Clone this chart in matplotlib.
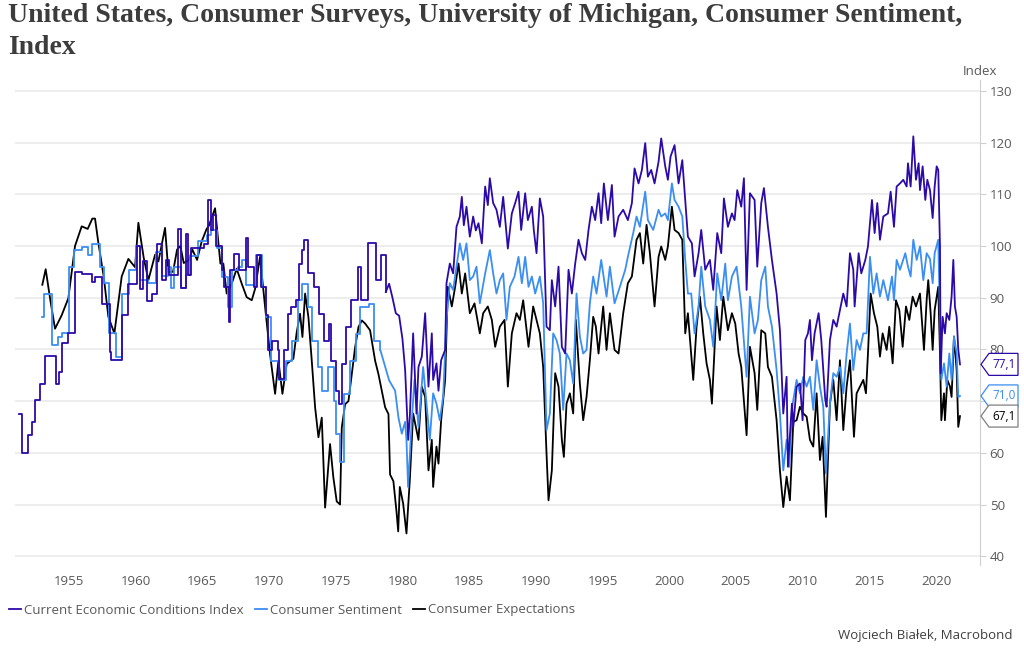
import numpy as np
import matplotlib
matplotlib.use("Agg")
import matplotlib.pyplot as plt
import matplotlib.transforms as mtransforms
from matplotlib.patches import Polygon

# ---- data ----
# early survey periods are drawn as steps (start of period, value)
cur_step_t = [1951.25, 1951.45, 1951.95, 1952.2, 1952.45, 1952.85, 1953.2, 1954.0, 1954.25, 1954.45,
              1954.95, 1955.45, 1955.95, 1956.7, 1956.95, 1957.5, 1958.05, 1958.15, 1958.95, 1959.45,
              1960.1, 1960.35, 1960.55, 1960.85, 1961.2, 1961.6, 1962.0, 1962.25, 1962.5, 1963.15,
              1963.4, 1963.75, 1963.9, 1964.15, 1965.1, 1965.4, 1965.68, 1965.8, 1966.0, 1966.5,
              1966.65, 1966.98, 1967.1, 1967.4, 1967.72, 1968.25, 1968.4, 1968.9, 1969.1, 1969.4,
              1969.75, 1969.9, 1970.2, 1970.65, 1970.78, 1971.15, 1971.4, 1971.65, 1972.0, 1972.25,
              1972.5, 1972.65, 1972.9, 1973.35, 1973.75, 1974.15, 1974.5, 1974.65, 1975.0, 1975.25,
              1975.5, 1975.75, 1976.15, 1976.65, 1976.9, 1977.4, 1978.0, 1978.4, 1978.75]
cur_step_v = [67.6, 60.0, 63.4, 66.0, 70.3, 73.3, 78.7, 73.3, 75.6, 81.3,
              83.2, 95.0, 94.5, 93.0, 94.0, 88.8, 79.5, 77.9, 86.6, 92.7,
              100.0, 91.7, 97.0, 89.4, 90.8, 100.3, 93.4, 97.3, 94.4, 103.3,
              91.8, 102.4, 94.4, 99.6, 100.3, 108.9, 103.0, 106.0, 99.9, 95.3,
              92.0, 85.3, 95.3, 98.5, 95.3, 101.5, 96.0, 92.0, 98.2, 92.0,
              86.6, 79.8, 81.7, 79.8, 74.3, 79.8, 86.9, 88.2, 89.5, 96.6,
              99.2, 101.1, 94.7, 92.0, 86.9, 81.7, 85.0, 77.8, 72.0, 69.4,
              77.2, 84.3, 89.5, 96.0, 89.5, 100.5, 93.4, 98.2, 91.1]

sent_step_t = [1953.0, 1953.15, 1953.7, 1954.2, 1954.5, 1955.0, 1955.4, 1955.95, 1956.4, 1956.75,
               1957.35, 1957.6, 1958.0, 1958.5, 1958.95, 1959.5, 1960.05, 1960.35, 1960.95, 1961.5,
               1962.0, 1962.45, 1962.65, 1962.9, 1963.4, 1963.8, 1964.1, 1964.65, 1965.35, 1965.65,
               1966.1, 1966.5, 1966.9, 1967.2, 1967.65, 1968.0, 1968.25, 1969.0, 1969.45, 1969.75,
               1970.15, 1970.75, 1971.25, 1971.75, 1972.15, 1972.5, 1972.9, 1973.25, 1973.65, 1974.0,
               1974.45, 1974.9, 1975.0, 1975.3, 1975.65, 1976.1, 1976.5, 1976.85, 1977.5, 1977.9,
               1978.35]
sent_step_v = [86.2, 90.7, 80.8, 82.4, 83.1, 95.9, 99.2, 99.8, 98.3, 100.3,
               96.0, 92.8, 83.1, 78.5, 90.8, 95.4, 100.0, 93.4, 92.8, 98.8,
               94.1, 96.0, 91.8, 95.9, 91.8, 94.4, 98.0, 100.9, 102.2, 103.0,
               99.7, 94.0, 88.2, 95.3, 96.0, 97.2, 92.4, 98.2, 92.0, 86.2,
               77.8, 74.0, 77.8, 81.7, 89.5, 92.7, 88.2, 81.7, 76.5, 72.0,
               76.5, 70.0, 63.6, 58.2, 71.4, 77.8, 83.0, 88.2, 88.8, 81.7,
               79.8]

# monthly era (sampled turning points)
cur_t = [1979.0, 1979.25, 1979.5, 1979.75, 1980.0, 1980.2, 1980.43, 1980.55, 1980.8, 1981.05,
         1981.2, 1981.45, 1981.7, 1981.95, 1982.2, 1982.3, 1982.55, 1982.7, 1982.9, 1983.2,
         1983.3, 1983.55, 1983.8, 1984.05, 1984.3, 1984.45, 1984.6, 1984.8, 1985.05, 1985.3,
         1985.5, 1985.7, 1985.95, 1986.2, 1986.4, 1986.55, 1986.8, 1987.05, 1987.3, 1987.55,
         1987.9, 1988.2, 1988.45, 1988.7, 1988.9, 1989.2, 1989.4, 1989.7, 1989.85, 1990.05,
         1990.3, 1990.55, 1990.8, 1991.05, 1991.2, 1991.45, 1991.7, 1991.95, 1992.2, 1992.45,
         1992.7, 1992.95, 1993.2, 1993.45, 1993.7, 1993.95, 1994.2, 1994.45, 1994.7, 1994.9,
         1995.1, 1995.4, 1995.7, 1995.9, 1996.2, 1996.55, 1996.9, 1997.2, 1997.4, 1997.7,
         1997.95, 1998.2, 1998.4, 1998.65, 1998.9, 1999.2, 1999.4, 1999.7, 1999.9, 2000.1,
         2000.4, 2000.7, 2000.98, 2001.2, 2001.4, 2001.7, 2001.9, 2002.2, 2002.4, 2002.7,
         2003.05, 2003.3, 2003.6, 2003.9, 2004.1, 2004.4, 2004.7, 2004.9, 2005.1, 2005.4,
         2005.6, 2005.8, 2006.05, 2006.4, 2006.6, 2006.9, 2007.1, 2007.4, 2007.7, 2008.05,
         2008.3, 2008.55, 2008.8, 2008.9, 2009.2, 2009.3, 2009.55, 2009.8, 2010.0, 2010.2,
         2010.4, 2010.55, 2010.7, 2010.9, 2011.2, 2011.4, 2011.7, 2011.8, 2012.05, 2012.3,
         2012.55, 2012.8, 2013.05, 2013.3, 2013.55, 2013.8, 2013.9, 2014.2, 2014.4, 2014.7,
         2014.9, 2015.2, 2015.4, 2015.6, 2015.8, 2016.05, 2016.4, 2016.6, 2016.85, 2017.05,
         2017.3, 2017.55, 2017.8, 2017.9, 2018.1, 2018.3, 2018.5, 2018.7, 2018.8, 2019.0,
         2019.2, 2019.35, 2019.55, 2019.75, 2019.9, 2020.05, 2020.17, 2020.3, 2020.35, 2020.5,
         2020.67, 2020.8, 2021.0, 2021.17, 2021.3, 2021.42, 2021.55, 2021.67, 2021.8]
cur_v = [92.7, 90.0, 87.0, 86.5, 82.0, 76.0, 62.5, 67.0, 83.1, 67.6,
         76.6, 78.6, 87.0, 72.8, 83.1, 74.1, 77.3, 72.0, 77.9, 79.9,
         92.8, 96.6, 94.7, 103.7, 105.7, 109.5, 104.0, 107.6, 101.8, 105.7,
         103.0, 104.4, 100.5, 111.5, 107.9, 113.1, 108.3, 107.0, 103.7, 109.5,
         99.5, 106.3, 108.3, 110.5, 103.1, 110.2, 105.0, 107.6, 103.0, 98.6,
         109.2, 105.7, 84.4, 83.7, 93.4, 88.3, 96.0, 80.5, 79.2, 95.4,
         90.8, 96.6, 101.2, 98.6, 97.3, 103.1, 107.6, 105.0, 110.2, 104.4,
         112.1, 105.0, 111.8, 101.8, 105.7, 107.0, 105.0, 108.3, 115.0, 112.1,
         114.7, 119.9, 113.4, 114.7, 112.1, 116.3, 120.8, 115.4, 112.8, 117.3,
         119.5, 112.1, 116.6, 108.9, 101.8, 100.5, 94.1, 98.6, 103.1, 95.4,
         97.3, 91.5, 102.5, 98.6, 109.2, 103.7, 106.3, 105.0, 110.8, 107.6,
         113.1, 91.5, 110.2, 108.9, 96.0, 108.3, 111.2, 103.7, 97.3, 90.8,
         83.7, 67.6, 74.7, 57.3, 69.5, 65.0, 72.8, 73.4, 66.3, 81.8,
         83.1, 85.7, 77.9, 83.1, 87.0, 81.8, 70.2, 68.9, 81.8, 85.7,
         84.4, 87.6, 90.8, 88.3, 98.6, 95.4, 88.3, 98.6, 94.7, 97.3,
         99.9, 108.9, 102.5, 108.3, 101.2, 105.7, 106.3, 110.5, 103.7, 111.5,
         112.1, 112.8, 111.5, 116.0, 111.5, 121.2, 112.8, 116.0, 110.8, 115.4,
         108.9, 112.8, 110.8, 105.4, 111.5, 115.4, 114.7, 99.9, 75.4, 86.3,
         83.1, 87.0, 85.7, 90.2, 97.3, 88.3, 86.3, 80.0, 77.1]

sent_t = [1979.0, 1979.45, 1979.7, 1979.95, 1980.2, 1980.3, 1980.42, 1980.7, 1980.9, 1981.2,
          1981.55, 1981.8, 1982.05, 1982.3, 1982.55, 1982.8, 1983.05, 1983.3, 1983.55, 1983.8,
          1984.05, 1984.3, 1984.55, 1984.8, 1985.05, 1985.3, 1985.55, 1985.8, 1986.2, 1986.55,
          1986.8, 1987.05, 1987.3, 1987.55, 1987.8, 1988.05, 1988.4, 1988.7, 1988.95, 1989.2,
          1989.45, 1989.7, 1989.95, 1990.3, 1990.55, 1990.8, 1991.05, 1991.3, 1991.55, 1991.8,
          1992.05, 1992.3, 1992.55, 1992.8, 1993.05, 1993.3, 1993.55, 1993.8, 1994.05, 1994.3,
          1994.55, 1994.9, 1995.3, 1995.55, 1995.9, 1996.3, 1996.7, 1996.9, 1997.3, 1997.55,
          1997.8, 1998.2, 1998.4, 1998.8, 1999.2, 1999.4, 1999.7, 1999.9, 2000.2, 2000.4,
          2000.7, 2000.98, 2001.2, 2001.4, 2001.65, 2001.9, 2002.2, 2002.4, 2002.7, 2003.05,
          2003.3, 2003.6, 2003.9, 2004.2, 2004.4, 2004.7, 2005.05, 2005.4, 2005.8, 2006.05,
          2006.4, 2006.65, 2006.9, 2007.2, 2007.4, 2007.7, 2008.05, 2008.3, 2008.55, 2008.8,
          2009.0, 2009.2, 2009.3, 2009.55, 2009.8, 2010.05, 2010.3, 2010.55, 2010.8, 2011.05,
          2011.3, 2011.55, 2011.75, 2012.05, 2012.3, 2012.55, 2012.8, 2013.05, 2013.3, 2013.55,
          2013.8, 2014.05, 2014.3, 2014.55, 2014.8, 2015.05, 2015.3, 2015.55, 2015.8, 2016.05,
          2016.4, 2016.7, 2016.85, 2017.05, 2017.3, 2017.7, 2017.9, 2018.1, 2018.3, 2018.55,
          2018.8, 2019.05, 2019.3, 2019.55, 2019.75, 2019.9, 2020.17, 2020.3, 2020.4, 2020.6,
          2020.8, 2021.0, 2021.17, 2021.35, 2021.55, 2021.67, 2021.8]
sent_v = [74.0, 72.0, 66.8, 63.7, 66.0, 62.5, 53.4, 66.3, 74.1, 65.0,
          76.6, 69.5, 62.5, 71.5, 69.5, 66.3, 70.8, 85.7, 92.8, 91.5,
          96.0, 100.5, 97.3, 100.5, 93.4, 94.1, 96.0, 88.9, 94.7, 99.2,
          94.7, 90.8, 93.4, 94.7, 85.7, 92.1, 94.1, 97.9, 92.8, 97.9,
          92.1, 94.1, 90.8, 94.1, 88.9, 64.4, 67.6, 83.1, 81.8, 79.2,
          68.3, 79.2, 77.9, 73.4, 90.8, 82.5, 79.2, 79.9, 88.9, 94.1,
          90.8, 97.3, 90.2, 96.0, 88.9, 92.1, 95.4, 97.9, 102.5, 105.7,
          103.7, 110.5, 105.0, 103.1, 107.0, 105.7, 106.3, 105.0, 112.1, 108.9,
          107.6, 105.7, 97.3, 90.8, 90.8, 83.1, 88.3, 96.0, 88.3, 85.7,
          80.5, 94.7, 89.5, 96.6, 89.5, 94.1, 96.0, 88.3, 74.7, 90.2,
          83.1, 85.7, 93.4, 96.0, 88.3, 84.4, 76.0, 67.6, 56.6, 62.5,
          57.3, 68.3, 70.2, 74.1, 71.5, 74.7, 72.8, 74.7, 68.3, 77.9,
          72.8, 68.9, 56.0, 69.5, 75.4, 74.7, 76.6, 71.5, 79.2, 85.0,
          76.0, 81.8, 79.9, 83.1, 83.1, 97.9, 90.8, 94.7, 90.2, 93.4,
          89.5, 94.1, 89.5, 97.3, 95.4, 98.6, 96.0, 94.1, 101.2, 97.3,
          99.9, 93.4, 98.6, 97.5, 92.8, 98.6, 101.2, 85.7, 74.1, 77.3,
          72.8, 79.2, 74.1, 82.5, 79.2, 70.8, 71.0]

exp_t = [1953.0, 1953.25, 1953.6, 1953.95, 1954.45, 1954.95, 1955.45, 1955.95, 1956.4, 1956.75,
         1956.95, 1957.2, 1957.6, 1957.95, 1958.4, 1958.95, 1959.45, 1959.95, 1960.2, 1960.6,
         1960.95, 1961.45, 1961.7, 1962.2, 1962.45, 1962.8, 1963.1, 1963.35, 1963.6, 1964.0,
         1964.25, 1964.6, 1964.95, 1965.3, 1965.5, 1965.95, 1966.35, 1966.57, 1966.82, 1967.2,
         1967.57, 1967.95, 1968.32, 1968.7, 1968.95, 1969.32, 1969.7, 1970.07, 1970.45, 1970.7,
         1971.0, 1971.32, 1971.82, 1972.07, 1972.32, 1972.5, 1972.7, 1972.95, 1973.2, 1973.45,
         1973.7, 1973.95, 1974.2, 1974.57, 1974.82, 1975.07, 1975.32, 1975.45, 1975.7, 1975.95,
         1976.2, 1976.45, 1976.7, 1976.95, 1977.2, 1977.57, 1977.95, 1978.2, 1978.45, 1978.7,
         1978.95, 1979.07, 1979.32, 1979.55, 1979.68, 1979.8, 1980.05, 1980.3, 1980.55, 1980.8,
         1981.2, 1981.45, 1981.7, 1981.95, 1982.2, 1982.3, 1982.55, 1982.7, 1982.9, 1983.2,
         1983.4, 1983.7, 1983.95, 1984.2, 1984.45, 1984.7, 1985.05, 1985.4, 1985.8, 1986.05,
         1986.4, 1986.7, 1986.95, 1987.3, 1987.65, 1987.9, 1988.2, 1988.55, 1988.8, 1989.05,
         1989.45, 1989.8, 1990.05, 1990.3, 1990.55, 1990.8, 1990.95, 1991.2, 1991.45, 1991.7,
         1991.95, 1992.1, 1992.3, 1992.55, 1992.8, 1993.0, 1993.3, 1993.55, 1993.8, 1994.05,
         1994.3, 1994.5, 1994.7, 1995.05, 1995.3, 1995.55, 1995.9, 1996.2, 1996.55, 1996.9,
         1997.2, 1997.55, 1997.8, 1998.05, 1998.3, 1998.55, 1998.9, 1999.2, 1999.4, 1999.7,
         1999.9, 2000.2, 2000.4, 2000.7, 2000.98, 2001.2, 2001.4, 2001.8, 2002.05, 2002.3,
         2002.55, 2002.8, 2003.05, 2003.2, 2003.55, 2003.8, 2004.05, 2004.4, 2004.7, 2004.95,
         2005.2, 2005.4, 2005.8, 2006.05, 2006.4, 2006.6, 2006.9, 2007.2, 2007.4, 2007.7,
         2008.05, 2008.3, 2008.55, 2008.8, 2009.05, 2009.3, 2009.55, 2009.8, 2010.05, 2010.3,
         2010.55, 2010.8, 2011.05, 2011.3, 2011.5, 2011.75, 2012.05, 2012.3, 2012.55, 2012.8,
         2013.05, 2013.3, 2013.55, 2013.85, 2014.05, 2014.3, 2014.55, 2014.75, 2014.9, 2015.1,
         2015.35, 2015.6, 2015.8, 2016.0, 2016.3, 2016.5, 2016.75, 2017.0, 2017.25, 2017.5,
         2017.75, 2018.0, 2018.25, 2018.5, 2018.8, 2019.1, 2019.3, 2019.42, 2019.6, 2019.75,
         2019.9, 2020.17, 2020.3, 2020.4, 2020.6, 2020.67, 2020.85, 2021.05, 2021.17, 2021.35,
         2021.55, 2021.67, 2021.8]
exp_v = [92.5, 95.5, 89.5, 84.0, 86.6, 89.9, 100.0, 103.8, 103.3, 105.3,
         105.3, 100.6, 94.1, 86.3, 83.1, 94.1, 97.5, 95.9, 104.5, 97.7,
         93.4, 98.3, 97.0, 103.5, 95.0, 95.0, 99.3, 100.0, 96.7, 97.3,
         99.3, 97.3, 100.9, 103.2, 104.0, 107.3, 96.6, 96.6, 90.8, 92.7,
         95.6, 92.7, 90.1, 89.5, 91.7, 97.9, 88.2, 79.1, 71.4, 77.8,
         71.4, 77.2, 78.2, 83.3, 86.9, 82.4, 90.8, 86.2, 77.8, 68.8,
         63.0, 66.8, 49.4, 61.7, 55.2, 50.6, 50.0, 64.9, 69.4, 70.0,
         75.2, 80.4, 84.3, 85.6, 85.0, 83.7, 77.8, 75.2, 72.0, 68.8,
         67.5, 55.8, 54.5, 48.7, 44.8, 53.4, 50.2, 44.4, 54.7, 67.6,
         62.5, 72.8, 70.8, 56.6, 62.5, 53.4, 61.2, 57.9, 66.3, 74.1,
         92.1, 88.3, 92.1, 96.6, 90.8, 94.7, 87.0, 88.9, 83.1, 87.0,
         88.3, 85.7, 80.5, 84.4, 85.7, 72.8, 83.1, 87.0, 85.7, 89.5,
         80.5, 88.3, 85.7, 83.1, 76.6, 59.9, 50.8, 56.6, 75.4, 72.8,
         62.5, 59.2, 69.5, 71.5, 67.6, 85.7, 73.4, 66.3, 70.8, 77.9,
         86.3, 84.4, 79.2, 88.3, 79.9, 87.0, 79.9, 79.2, 87.0, 92.8,
         94.1, 101.2, 102.5, 96.6, 104.1, 98.6, 88.3, 97.9, 99.9, 97.3,
         99.9, 107.6, 103.1, 102.5, 101.2, 83.1, 87.0, 74.1, 84.4, 90.2,
         83.1, 77.3, 74.1, 69.5, 88.3, 81.8, 90.2, 83.7, 87.0, 85.0,
         79.2, 76.6, 63.4, 80.5, 75.4, 68.3, 83.7, 83.1, 76.6, 74.7,
         66.3, 56.6, 49.5, 55.4, 50.8, 66.0, 66.3, 68.9, 67.6, 67.0,
         62.5, 61.2, 71.5, 58.6, 63.1, 47.6, 69.5, 74.1, 66.3, 77.9,
         64.4, 72.8, 77.9, 63.1, 71.5, 72.8, 74.1, 71.5, 79.2, 90.8,
         87.0, 84.4, 78.6, 83.1, 79.9, 84.4, 77.3, 89.5, 87.6, 80.5,
         88.3, 85.7, 90.2, 88.3, 90.8, 79.9, 89.5, 93.4, 87.0, 79.9,
         87.6, 92.1, 79.2, 66.3, 71.5, 66.3, 74.1, 72.8, 70.8, 82.5,
         76.0, 65.0, 67.1]

year_ticks = list(range(1955, 2021, 5))
y_ticks = list(range(40, 131, 10))

names = ["Current Economic Conditions Index", "Consumer Sentiment", "Consumer Expectations"]
c_cur, c_sent, c_exp = "#2c0aa8", "#3b8ef2", "#000000"
txt_col = "#595959"

plt.rcParams["font.family"] = ["Open Sans", "DejaVu Sans"]

fig = plt.figure(figsize=(10.24, 6.56), dpi=100)
ax = fig.add_axes([15 / 1024, 1 - 565 / 656, 965 / 1024, 485 / 656])

ax.plot(exp_t, exp_v, color=c_exp, lw=1.3, label=names[2], zorder=3)
ax.step(sent_step_t, sent_step_v, where="post", color=c_sent, lw=1.3, zorder=4)
ax.plot(np.r_[sent_step_t[-1], sent_t], np.r_[sent_step_v[-1], sent_v],
        color=c_sent, lw=1.3, label=names[1], zorder=4)
ax.step(cur_step_t, cur_step_v, where="post", color=c_cur, lw=1.3, zorder=5)
ax.plot(np.r_[cur_step_t[-1], cur_t], np.r_[cur_step_v[-1], cur_v],
        color=c_cur, lw=1.3, label=names[0], zorder=5)

ax.set_xlim(1950.95, 2023.3)
ax.set_ylim(38.3, 132.1)
ax.set_yticks(y_ticks)
ax.set_xticks(year_ticks)
ax.grid(axis="y", color="#e8e8e8", lw=1.1, zorder=0)
for s in ["left", "top", "bottom"]:
    ax.spines[s].set_visible(False)
ax.spines["right"].set_color("#d0d0d0")
ax.yaxis.tick_right()
ax.tick_params(axis="y", length=4, color="#d0d0d0", labelsize=9.5, labelcolor=txt_col, pad=3)
ax.tick_params(axis="x", length=0, labelsize=9.5, labelcolor=txt_col, pad=7)

ax.text(1.0, 1.004, "Index", transform=ax.transAxes, ha="center", va="bottom",
        fontsize=9.5, color=txt_col)

# end-value tags (they cover the tick label underneath, as in the source)
fig.canvas.draw()
ytr = ax.get_yaxis_transform()
tag_boxes = []
for val, col, edge in [(cur_v[-1], c_cur, c_cur), (sent_v[-1], c_sent, c_sent),
                       (exp_v[-1], "#000000", "#808080")]:
    x0, y0 = ytr.transform((1.0, val))
    h = 11
    verts = [(x0 + 1, y0), (x0 + 9, y0 + h), (x0 + 38, y0 + h), (x0 + 38, y0 - h), (x0 + 9, y0 - h)]
    fig.add_artist(Polygon(verts, closed=True, facecolor="white", edgecolor=edge, lw=0.9,
                           transform=mtransforms.IdentityTransform(), zorder=10))
    fig.text((x0 + 24) / 1024, y0 / 656, f"{val:.1f}".replace(".", ","), ha="center", va="center",
             fontsize=8.5, color=col, zorder=11)
    tag_boxes.append((y0 - h, y0 + h))

for tick, lab in zip(ax.get_yticks(), ax.get_yticklabels()):
    _, ty = ytr.transform((1.0, tick))
    if any(lo - 2 < ty < hi + 2 for lo, hi in tag_boxes):
        lab.set_visible(False)

hd = {l: h for h, l in zip(*ax.get_legend_handles_labels()[::-1][::-1])}
fig.legend([hd[n] for n in names], names, loc="center left", bbox_to_anchor=(0.0, 1 - 610 / 656),
           ncol=3, frameon=False, fontsize=9.5, handlelength=0.9, handletextpad=0.2,
           columnspacing=0.9, labelcolor=txt_col, borderaxespad=0.3)

fig.text(8 / 1024, 1 - 3 / 656,
         "United States, Consumer Surveys, University of Michigan, Consumer Sentiment,\nIndex",
         ha="left", va="top", fontsize=20, fontweight="bold", color="#3c3c3c",
         family="Liberation Serif", linespacing=1.35)
fig.text(1013 / 1024, 1 - 636 / 656, "Wojciech Białek, Macrobond", ha="right", va="center",
         fontsize=9.5, color="#404040")

fig.savefig("out.png", dpi=100)
